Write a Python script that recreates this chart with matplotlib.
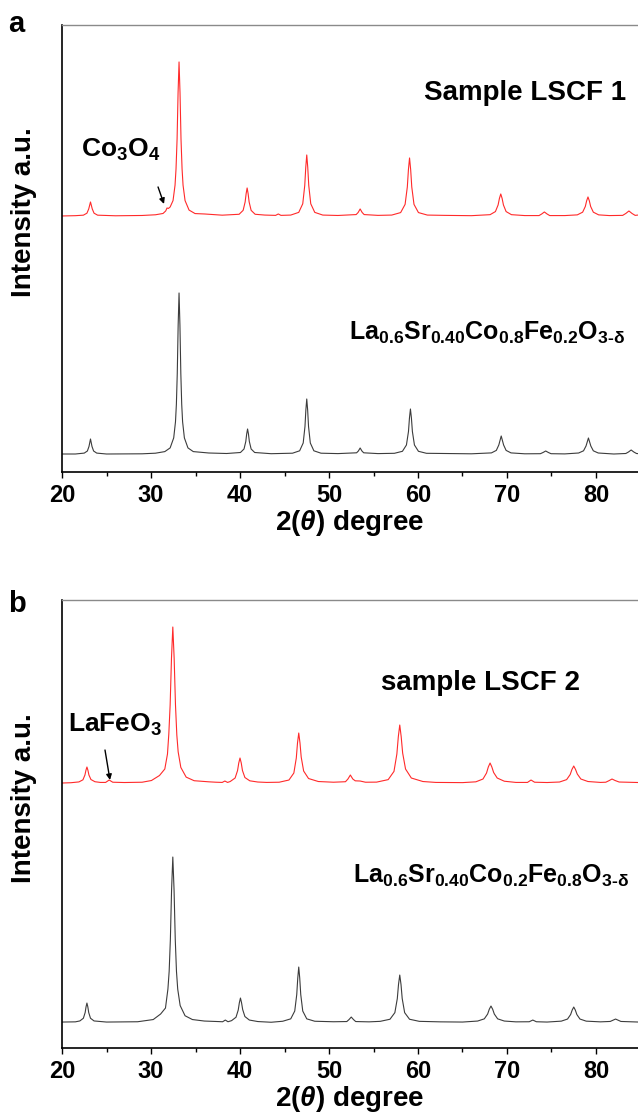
"""XRD patterns of two LSCF samples: as-made (red) vs reference phase (black)."""

import matplotlib

matplotlib.use("Agg")
import matplotlib.pyplot as plt  # noqa: E402
from matplotlib.ticker import MultipleLocator  # noqa: E402

plt.rcParams["font.family"] = ["Liberation Sans", "DejaVu Sans"]
plt.rcParams["font.weight"] = "bold"
plt.rcParams["mathtext.fontset"] = "custom"
plt.rcParams["mathtext.rm"] = "Liberation Sans:bold"
plt.rcParams["mathtext.bf"] = "Liberation Sans:bold"
plt.rcParams["mathtext.it"] = "Liberation Sans:italic:bold"

# --- panel a: La0.6Sr0.4Co0.8Fe0.2O3 ---------------------------------------
ref_a_theta = [
    20.0, 21.5, 22.5, 22.85, 23.03, 23.2, 23.37, 23.55, 23.9, 25.0,
    29.0, 30.5, 31.55, 32.15, 32.55, 32.75, 32.85, 32.95, 33.05, 33.15,
    33.25, 33.35, 33.45, 33.55, 33.75, 34.15, 34.75, 36.5, 38.5, 40.05,
    40.45, 40.65, 40.75, 40.85, 40.95, 41.05, 41.25, 41.65, 43.5, 45.9,
    46.7, 47.1, 47.3, 47.4, 47.5, 47.6, 47.7, 47.9, 48.3, 49.1,
    51.0, 53.1, 53.3, 53.5, 53.7, 53.9, 55.5, 57.35, 58.25, 58.7,
    58.93, 59.04, 59.15, 59.26, 59.37, 59.6, 60.05, 60.95, 63.0, 66.0,
    68.25, 68.8, 69.08, 69.35, 69.62, 69.9, 70.45, 72.0, 73.75, 74.05,
    74.35, 74.65, 74.95, 76.5, 78.05, 78.6, 78.88, 79.15, 79.42, 79.7,
    80.25, 82.0, 83.35, 83.65, 83.95, 84.25, 84.55, 84.8,
]
ref_a_counts = [
    18.0, 18.0, 18.9, 21.0, 25.5, 33.0, 25.5, 21.0, 18.9, 18.0,
    18.2, 18.8, 20.4, 24.1, 34.1, 50.2, 67.6, 98.5, 146.8, 179.0,
    146.8, 98.5, 67.6, 50.2, 34.1, 24.1, 20.4, 19.0, 18.5, 19.5,
    23.0, 30.5, 38.0, 43.0, 38.0, 30.5, 23.0, 19.5, 18.3, 18.8,
    21.2, 29.0, 45.5, 62.0, 73.0, 62.0, 45.5, 29.0, 21.2, 18.8,
    18.4, 19.2, 21.0, 24.0, 21.0, 19.2, 18.4, 18.7, 20.7, 27.0,
    40.5, 54.0, 63.0, 54.0, 40.5, 27.0, 20.7, 18.7, 18.5, 18.2,
    19.1, 21.6, 27.0, 36.0, 27.0, 21.6, 19.1, 18.2, 18.3, 19.5,
    21.0, 19.5, 18.3, 18.1, 19.0, 21.2, 26.0, 34.0, 26.0, 21.2,
    19.0, 18.0, 18.5, 20.0, 22.0, 20.0, 18.5, 18.3,
]
lscf1_theta = [
    20.0, 21.5, 22.4, 22.8, 23.0, 23.2, 23.4, 23.6, 24.0, 26.0,
    29.0, 30.5, 31.35, 31.65, 31.8, 31.95, 32.15, 32.475, 32.7, 32.81,
    32.93, 33.04, 33.15, 33.26, 33.37, 33.49, 33.6, 33.825, 34.275, 34.95,
    36.0, 38.0, 39.9, 40.35, 40.575, 40.69, 40.8, 40.91, 41.025, 41.25,
    41.7, 42.8, 44.0, 44.3, 44.6, 45.7, 46.6, 47.05, 47.275, 47.39,
    47.5, 47.61, 47.725, 47.95, 48.4, 49.3, 51.0, 53.05, 53.275, 53.5,
    53.725, 53.95, 55.5, 57.05, 58.05, 58.55, 58.8, 58.925, 59.05, 59.175,
    59.3, 59.55, 60.05, 61.05, 63.0, 66.0, 68.1, 68.7, 69.0, 69.15,
    69.3, 69.45, 69.6, 69.9, 70.5, 72.0, 73.6, 73.9, 74.2, 74.5,
    74.8, 76.5, 77.9, 78.5, 78.8, 78.95, 79.1, 79.25, 79.4, 79.7,
    80.3, 81.5, 83.0, 83.35, 83.7, 84.05, 84.4, 84.8,
]
lscf1_counts = [
    18.0, 18.3, 18.8, 20.8, 25.0, 32.0, 25.0, 20.8, 18.8, 18.2,
    18.5, 19.2, 20.5, 23.0, 26.0, 25.5, 27.0, 33.4, 48.8, 65.0,
    95.0, 141.0, 172.0, 141.0, 95.0, 65.0, 48.8, 33.4, 23.9, 20.4,
    20.0, 18.8, 19.7, 23.6, 32.0, 40.4, 46.0, 40.4, 32.0, 23.6,
    19.7, 18.9, 18.6, 20.0, 18.6, 18.9, 21.6, 30.2, 48.5, 66.8,
    79.0, 66.8, 48.5, 30.2, 21.6, 18.9, 18.5, 19.4, 21.5, 25.0,
    21.5, 19.4, 18.6, 18.9, 21.4, 29.6, 47.0, 64.4, 76.0, 64.4,
    47.0, 29.6, 21.4, 18.9, 18.6, 18.3, 19.3, 22.4, 29.0, 35.6,
    40.0, 35.6, 29.0, 22.4, 19.3, 18.4, 18.4, 20.0, 22.0, 20.0,
    18.4, 18.4, 19.1, 21.8, 27.5, 33.2, 37.0, 33.2, 27.5, 21.8,
    19.1, 18.4, 18.6, 20.5, 23.0, 20.5, 18.6, 19.0,
]

# --- panel b: La0.6Sr0.4Co0.2Fe0.8O3 ---------------------------------------
ref_b_theta = [
    20.0, 21.5, 22.0, 22.4, 22.6, 22.7, 22.8, 22.9, 23.0, 23.2,
    23.6, 25.0, 28.5, 30.25, 31.075, 31.625, 31.9, 32.04, 32.175, 32.31,
    32.45, 32.59, 32.725, 32.86, 33.0, 33.275, 33.825, 34.65, 36.0, 37.5,
    38.05, 38.35, 38.65, 39.05, 39.55, 39.8, 39.925, 40.05, 40.175, 40.3,
    40.55, 41.05, 42.0, 43.5, 44.8, 45.7, 46.15, 46.375, 46.49, 46.6,
    46.71, 46.825, 47.05, 47.5, 48.4, 50.5, 52.0, 52.25, 52.5, 52.75,
    53.0, 54.5, 55.75, 56.85, 57.4, 57.675, 57.81, 57.95, 58.09, 58.225,
    58.5, 59.05, 60.15, 62.5, 65.0, 66.7, 67.45, 67.825, 68.01, 68.2,
    68.39, 68.575, 68.95, 69.7, 71.0, 72.5, 72.9, 73.3, 74.5, 76.1,
    76.8, 77.15, 77.325, 77.5, 77.675, 77.85, 78.2, 78.9, 80.5, 81.6,
    81.9, 82.2, 82.5, 82.8, 84.8,
]
ref_b_counts = [
    26.0, 26.2, 27.1, 29.8, 35.5, 41.2, 45.0, 41.2, 35.5, 29.8,
    27.1, 26.0, 26.3, 28.5, 34.0, 40.0, 59.0, 76.8, 108.5, 158.0,
    191.0, 158.0, 108.5, 76.8, 59.0, 42.5, 32.3, 28.5, 27.0, 26.5,
    26.3, 28.0, 26.3, 27.4, 30.8, 38.0, 45.2, 50.0, 45.2, 38.5,
    31.5, 28.0, 26.5, 25.8, 26.8, 29.2, 37.0, 53.5, 70.0, 81.0,
    70.0, 53.5, 37.0, 29.2, 26.8, 26.3, 26.5, 28.5, 31.0, 28.5,
    26.5, 26.2, 26.7, 28.8, 35.4, 49.5, 63.6, 73.0, 63.6, 49.5,
    35.4, 28.8, 26.7, 26.2, 26.0, 27.0, 29.2, 34.0, 38.8, 42.0,
    38.8, 34.0, 29.2, 27.0, 26.2, 26.3, 28.0, 26.3, 26.0, 26.9,
    29.0, 33.5, 38.0, 41.0, 38.0, 33.5, 29.0, 26.9, 26.2, 26.6,
    27.8, 29.0, 27.8, 26.6, 26.0,
]
lscf2_theta = [
    20.0, 21.0, 21.9, 22.35, 22.575, 22.69, 22.8, 22.91, 23.025, 23.25,
    23.7, 24.3, 24.9, 25.3, 25.7, 27.0, 29.0, 30.05, 30.95, 31.55,
    31.85, 32.0, 32.15, 32.3, 32.45, 32.6, 32.75, 32.9, 33.05, 33.35,
    33.95, 34.85, 36.5, 37.3, 38.0, 38.3, 38.6, 38.9, 39.45, 39.725,
    39.86, 40.0, 40.14, 40.275, 40.55, 41.1, 42.0, 43.0, 44.4, 45.5,
    46.05, 46.325, 46.46, 46.6, 46.74, 46.875, 47.15, 47.7, 48.8, 50.5,
    51.85, 52.125, 52.4, 52.675, 52.95, 53.5, 54.1, 55.35, 56.65, 57.3,
    57.625, 57.79, 57.95, 58.11, 58.275, 58.6, 59.25, 60.55, 62.0, 65.0,
    66.5, 67.3, 67.7, 67.9, 68.1, 68.3, 68.5, 68.9, 69.7, 71.0,
    72.3, 72.7, 73.1, 74.5, 75.9, 76.7, 77.1, 77.3, 77.5, 77.7,
    77.9, 78.3, 79.1, 80.5, 81.1, 81.45, 81.8, 82.15, 82.6, 84.8,
]
lscf2_counts = [
    26.0, 26.3, 27.1, 29.2, 34.0, 38.8, 42.0, 38.8, 34.0, 29.5,
    27.3, 26.6, 26.6, 29.0, 26.8, 26.5, 26.8, 28.5, 33.5, 40.0,
    55.0, 75.0, 104.0, 150.8, 182.0, 150.8, 104.0, 74.0, 57.2, 41.6,
    31.9, 28.3, 27.2, 26.8, 26.6, 28.0, 26.6, 27.5, 31.0, 38.5,
    46.0, 51.0, 46.0, 38.5, 31.5, 28.2, 27.0, 26.6, 26.8, 29.0,
    36.0, 51.0, 66.0, 76.0, 66.0, 52.0, 38.0, 30.5, 27.5, 26.8,
    27.3, 30.0, 34.0, 30.0, 28.2, 28.0, 26.8, 26.9, 29.4, 37.6,
    55.0, 72.4, 84.0, 72.4, 56.0, 40.0, 31.0, 27.5, 26.6, 26.4,
    27.2, 30.0, 36.0, 42.0, 46.0, 42.0, 36.5, 31.0, 27.8, 26.6,
    26.6, 29.0, 26.8, 26.5, 27.0, 29.4, 34.5, 39.6, 43.0, 39.6,
    35.0, 30.0, 27.5, 26.6, 26.8, 28.3, 30.0, 28.5, 27.0, 26.5,
]

# vertical stacking of the sample trace above the reference
OFFSET_A = 238
OFFSET_B = 239

RED = "#ff2a2a"
GREY = "#3c3c3c"


def style_axes(ax, ytop):
    ax.set_xlim(20, 84.72)
    ax.set_ylim(0, ytop)
    ax.set_yticks([])
    ax.xaxis.set_major_locator(MultipleLocator(10))
    ax.xaxis.set_minor_locator(MultipleLocator(5))
    ax.tick_params(axis="x", which="major", direction="out", length=4.5,
                   width=1.0, labelsize=17, pad=4)
    ax.tick_params(axis="x", which="minor", direction="out", length=3,
                   width=1.0)
    for lab in ax.get_xticklabels():
        lab.set_fontweight("bold")
    ax.spines["right"].set_visible(False)
    ax.spines["top"].set_color("#8a8a8a")
    ax.spines["top"].set_linewidth(1.0)
    ax.spines["left"].set_linewidth(1.2)
    ax.spines["bottom"].set_linewidth(1.2)
    ax.set_xlabel(r"2($\mathit{\theta}$) degree", fontsize=20,
                  fontweight="bold", labelpad=1)


fig = plt.figure(figsize=(6.38, 11.14), dpi=100)
ax_a = fig.add_axes([0.0972, 0.5763, 0.9028, 0.4013])
ax_b = fig.add_axes([0.0972, 0.0592, 0.9028, 0.4022])

# panel a
ax_a.plot(ref_a_theta, ref_a_counts, color=GREY, lw=0.8)
ax_a.plot(lscf1_theta, [c + OFFSET_A for c in lscf1_counts], color=RED, lw=0.8)
style_axes(ax_a, 447)
ax_a.text(72.0, 372, "Sample LSCF 1", fontsize=20, fontweight="bold",
          ha="center", va="baseline")
ax_a.text(67.8, 132,
          r"$\mathbf{La_{0.6}Sr_{0.40}Co_{0.8}Fe_{0.2}O_{3\text{-}\delta}}$",
          fontsize=18, ha="center", va="baseline")
ax_a.text(26.57, 315, r"$\mathbf{Co_3O_4}$", fontsize=19, ha="center",
          va="baseline")
ax_a.annotate("", xy=(31.46, 268), xytext=(30.79, 285),
              arrowprops=dict(arrowstyle="-|>", color="black", lw=1.0,
                              mutation_scale=8, shrinkA=0, shrinkB=0))

# panel b
ax_b.plot(ref_b_theta, ref_b_counts, color=GREY, lw=0.8)
ax_b.plot(lscf2_theta, [c + OFFSET_B for c in lscf2_counts], color=RED, lw=0.8)
style_axes(ax_b, 448)
ax_b.text(67.0, 358, "sample LSCF 2", fontsize=20, fontweight="bold",
          ha="center", va="baseline")
ax_b.text(68.25, 165,
          r"$\mathbf{La_{0.6}Sr_{0.40}Co_{0.2}Fe_{0.8}O_{3\text{-}\delta}}$",
          fontsize=18, ha="center", va="baseline")
ax_b.text(26.0, 316, r"$\mathbf{LaFeO_3}$", fontsize=19, ha="center",
          va="baseline")
ax_b.annotate("", xy=(25.39, 268), xytext=(24.83, 298),
              arrowprops=dict(arrowstyle="-|>", color="black", lw=1.0,
                              mutation_scale=8, shrinkA=0, shrinkB=0))

# shared decorations: y labels and panel letters
for ycen in (0.8097, 0.2837):
    fig.text(0.0376, ycen, "Intensity a.u.", rotation=90, fontsize=20,
             fontweight="bold", ha="center", va="center")
fig.text(0.0125, 0.9713, "a", fontsize=21, fontweight="bold", va="baseline")
fig.text(0.0125, 0.4506, "b", fontsize=21, fontweight="bold", va="baseline")

fig.savefig("out.png", dpi=100)
